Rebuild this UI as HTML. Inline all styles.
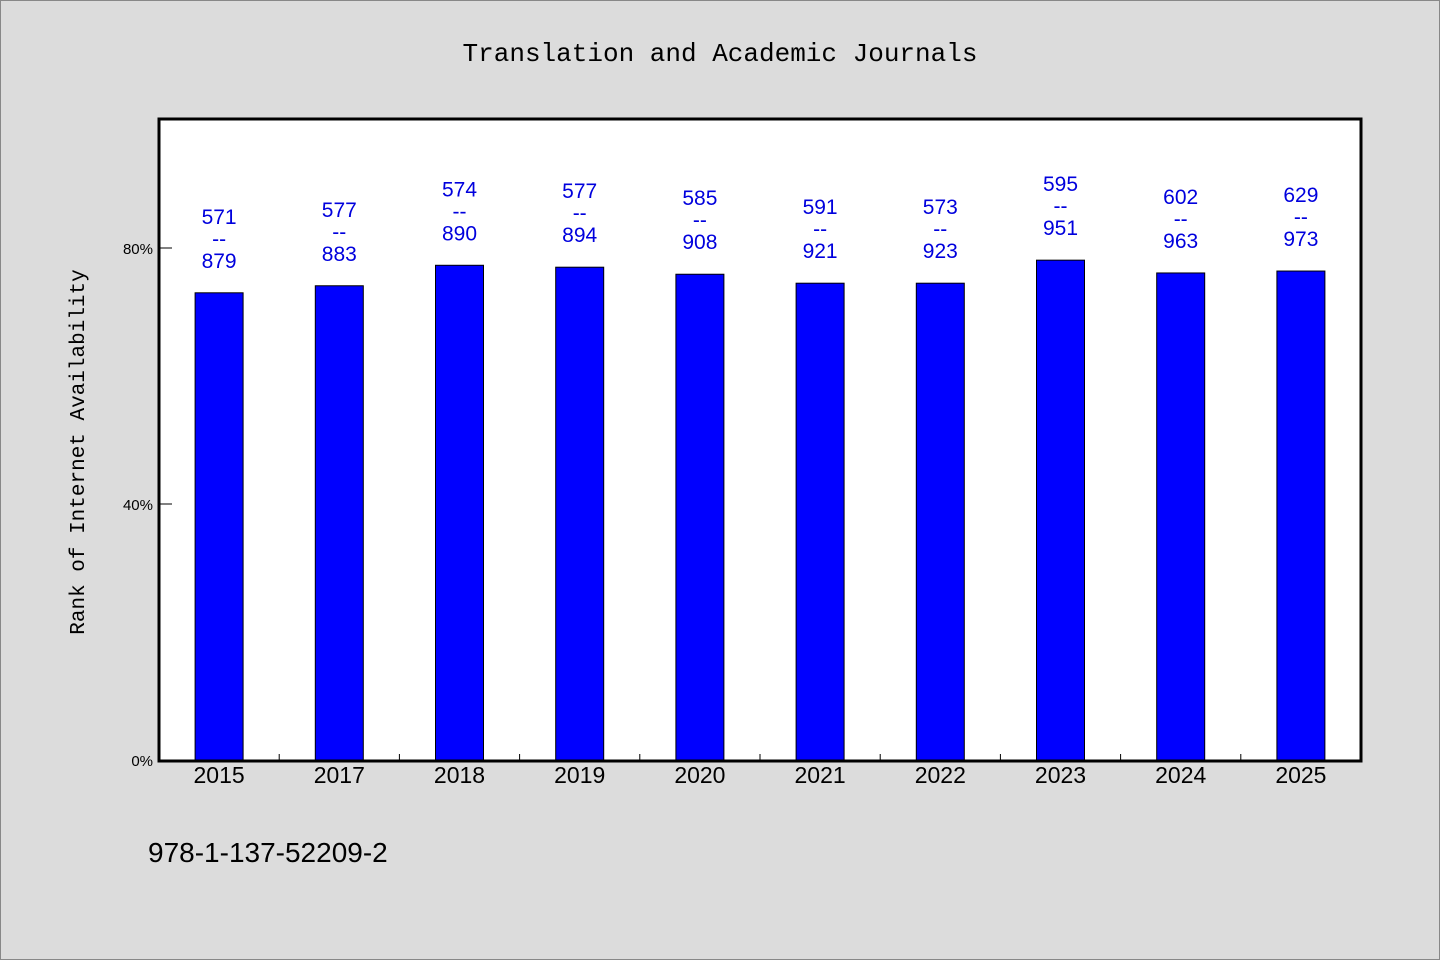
<!DOCTYPE html>
<html><head><meta charset="utf-8"><style>
html,body{margin:0;padding:0;background:#dcdcdc;}
svg{display:block;font-family:"Liberation Sans","WenQuanYi Zen Hei",sans-serif;}
</style></head><body>
<svg id="chart" width="1440" height="960">
<rect x="0.5" y="0.5" width="1439" height="959" fill="#dcdcdc" stroke="#888"/>
<text x="720" y="61" text-anchor="middle" font-family="Liberation Mono, monospace" font-size="26">Translation and Academic Journals</text>
<rect x="159" y="119" width="1202" height="642" fill="#fff" stroke="#000" stroke-width="3"/>
<g id="grid"></g>
<g id="bars"></g>
<text transform="translate(84,452) rotate(-90)" text-anchor="middle" font-family="Liberation Mono, monospace" font-size="21">Rank of Internet Availability</text>
<text x="148" y="862" font-size="28">978-1-137-52209-2</text>
</svg>
<script>
const categories=["2015","2017","2018","2019","2020","2021","2022","2023","2024","2025"];
const values=[73.0,74.1,77.3,77.0,75.9,74.5,74.5,78.1,76.1,76.4];
const topLabels=["571","577","574","577","585","591","573","595","602","629"];
const bottomLabels=["879","883","890","894","908","921","923","951","963","973"];
const yTicks=[0,40,80];
const NS="http://www.w3.org/2000/svg";
const L=159,R=1361,T=119,B=760;
const y=v=>B-v*6.4;
const step=(R-L)/categories.length;
const x=i=>L+step*(i+0.5);
function mk(tag,attrs,parent,txt){const e=document.createElementNS(NS,tag);for(const k in attrs)e.setAttribute(k,attrs[k]);if(txt!==undefined)e.textContent=txt;parent.appendChild(e);return e;}
const g=document.getElementById('grid'),gb=document.getElementById('bars');
yTicks.forEach(t=>{
 const l=mk('line',{x1:L,x2:L+13,y1:y(t),y2:y(t),stroke:'#000','stroke-width':1},g);
 
 
 const tx=mk('text',{x:L-6,y:y(t)+6,'text-anchor':'end','font-size':15},g,t+'%');
 
 
});
for(let i=1;i<categories.length;i++){
 const l=mk('line',{x1:L+step*i,x2:L+step*i,y1:B,y2:B-6,stroke:'#000','stroke-width':1},g);
 
 
}
categories.forEach((c,i)=>{
 const cx=x(i),top=y(values[i]);
 const r=mk('rect',{x:cx-24,y:top,width:48,height:B-top,fill:'#0000ff',stroke:'#000','stroke-width':1},gb);
 
 
 const lb=mk('text',{x:cx,y:top-25,'text-anchor':'middle','font-size':21,fill:'#0000dd'},gb,bottomLabels[i]);
 
 
 const ld=mk('text',{x:cx,y:top-47,'text-anchor':'middle','font-size':21,fill:'#0000dd'},gb,'--');
 
 
 const lt=mk('text',{x:cx,y:top-69,'text-anchor':'middle','font-size':21,fill:'#0000dd'},gb,topLabels[i]);
 
 
 const xl=mk('text',{x:cx,y:783,'text-anchor':'middle','font-size':23},gb,c);
 
 
});
</script>
</body></html>
